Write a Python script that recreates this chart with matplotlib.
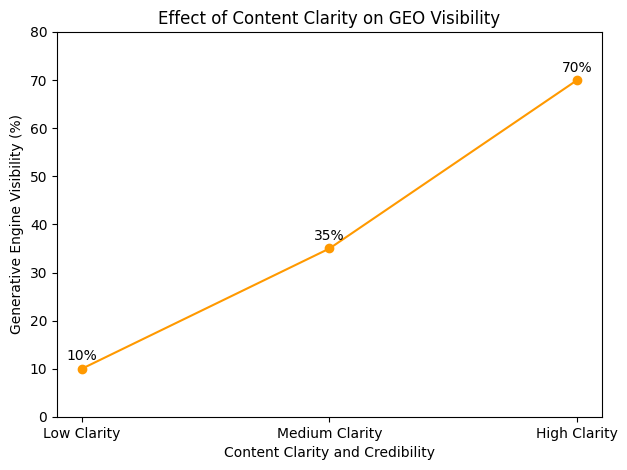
import matplotlib
matplotlib.use("Agg")
import matplotlib.pyplot as plt

categories = ["Low Clarity", "Medium Clarity", "High Clarity"]
visibility = [10, 35, 70]

fig, ax = plt.subplots(figsize=(6.27, 4.70), dpi=100)
ax.plot(categories, visibility, marker="o", color="#ff9900")
for i, v in enumerate(visibility):
    ax.annotate(f"{v}%", (i, v), textcoords="offset points", xytext=(0, 6), ha="center")
ax.set_title("Effect of Content Clarity on GEO Visibility")
ax.set_xlabel("Content Clarity and Credibility")
ax.set_ylabel("Generative Engine Visibility (%)")
ax.set_ylim(0, 80)
fig.subplots_adjust(left=0.091, right=0.960, top=0.932, bottom=0.113)
fig.savefig("out.png")
